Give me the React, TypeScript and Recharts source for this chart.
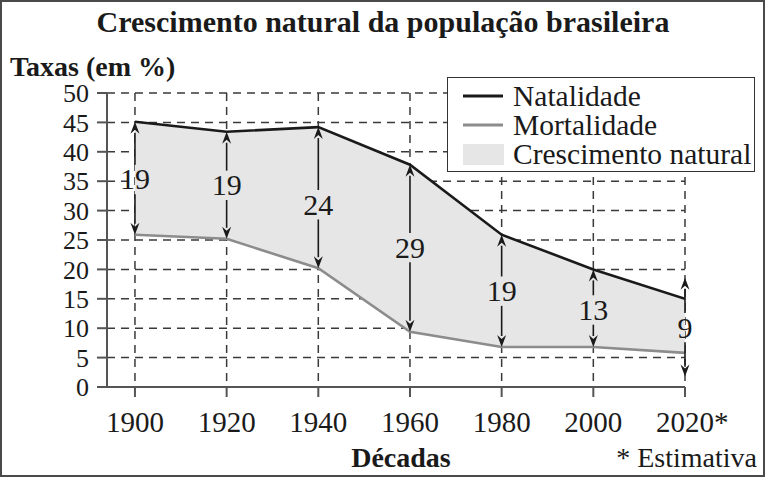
import React from 'react';
import {
  ComposedChart, Area, Line, XAxis, YAxis, CartesianGrid, ReferenceLine, ReferenceDot, Legend,
} from 'recharts';

const years = [1900, 1920, 1940, 1960, 1980, 2000, 2020];
const natalidade = [45.1, 43.4, 44.2, 37.8, 25.9, 20.0, 15.0];
const mortalidade = [25.9, 25.2, 20.2, 9.4, 6.8, 6.8, 5.8];
const crescimento = [19, 19, 24, 29, 19, 13, 9];
const labelAt = [35.3, 34.3, 31.0, 23.7, 16.3, 13.1, 10.1];
const arrowHigh = [45.1, 43.4, 44.2, 37.8, 25.9, 20.0, 18.6];
const arrowLow = [25.9, 25.2, 20.2, 9.4, 6.8, 6.8, 1.8];
const yTicks = [0, 5, 10, 15, 20, 25, 30, 35, 40, 45, 50];
const xTicks = years;

const SERIF = "'Liberation Serif', 'Times New Roman', serif";
const LABEL_GAP = 2.5;

const data = years.map((y, i) => ({
  year: y,
  nat: natalidade[i],
  mort: mortalidade[i],
  range: [mortalidade[i], natalidade[i]],
}));

const ArrowSeg = (props: any) => {
  const { x1, y1, x2, y2 } = props;
  const dir = Math.sign(y2 - y1) || 1;
  const len = 11;
  const hw = 4.5;
  return (
    <g>
      <line x1={x1} y1={y1} x2={x2} y2={y2 - dir * len} stroke="#1a1a1a" strokeWidth={1.6} />
      <path
        d={`M${x2},${y2} L${x2 - hw},${y2 - dir * (len + 1)} L${x2},${y2 - dir * (len - 3)} L${x2 + hw},${y2 - dir * (len + 1)} Z`}
        fill="#1a1a1a"
      />
    </g>
  );
};

const XTick = (props: any) => {
  const { x, y, payload } = props;
  const v = payload.value;
  return (
    <text x={x - 29} y={y + 33} textAnchor="start" fontFamily={SERIF} fontSize={29} fill="#1a1a1a">
      {v === 2020 ? '2020*' : String(v)}
    </text>
  );
};

const LegendBox = () => (
  <div
    style={{
      width: 308,
      height: 95,
      boxSizing: 'border-box',
      border: '1.5px solid #333',
      background: '#fff',
      fontFamily: SERIF,
      fontSize: 29.5,
      color: '#1a1a1a',
      position: 'relative',
    }}
  >
    {[
      { name: 'Natalidade', kind: 'line', color: '#1a1a1a' },
      { name: 'Mortalidade', kind: 'line', color: '#8c8c8c' },
      { name: 'Crescimento natural', kind: 'rect', color: '#e6e6e6' },
    ].map((it, i) => (
      <div
        key={it.name}
        style={{ position: 'absolute', left: 14, top: 3 + i * 29, height: 30, display: 'flex', alignItems: 'center', whiteSpace: 'nowrap' }}
      >
        <svg width={42} height={30} style={{ display: 'block' }}>
          {it.kind === 'line' ? (
            <line x1={1} y1={15} x2={41} y2={15} stroke={it.color} strokeWidth={3} />
          ) : (
            <rect x={1} y={5} width={41} height={21} fill={it.color} />
          )}
        </svg>
        <span style={{ marginLeft: 9, lineHeight: '30px' }}>{it.name}</span>
      </div>
    ))}
  </div>
);

export default function App() {
  return (
    <div style={{ position: 'absolute', left: 0, top: 0, width: 765, height: 477, background: '#fff' }}>
      <ComposedChart
        width={765}
        height={477}
        data={data}
        margin={{ top: 93, right: 80, bottom: 30, left: 47 }}
      >
        <CartesianGrid
          stroke="#3a3a3a"
          strokeWidth={1.5}
          strokeDasharray="8 6"
        />
        <XAxis
          dataKey="year"
          type="number"
          domain={[1893.9, 2020]}
          ticks={xTicks}
          allowDataOverflow
          height={60}
          tickSize={10}
          axisLine={{ stroke: '#555', strokeWidth: 2 }}
          tickLine={{ stroke: '#555', strokeWidth: 2 }}
          tick={<XTick />}
          interval={0}
        />
        <YAxis
          type="number"
          domain={[0, 50]}
          ticks={yTicks}
          width={60}
          tickSize={10}
          tickMargin={8}
          interval={0}
          axisLine={{ stroke: '#555', strokeWidth: 2 }}
          tickLine={{ stroke: '#555', strokeWidth: 2 }}
          tick={{ fontFamily: SERIF, fontSize: 26, fill: '#1a1a1a' }}
        />
        <Area
          dataKey="range"
          type="linear"
          fill="#e6e6e6"
          fillOpacity={1}
          stroke="none"
          isAnimationActive={false}
          legendType="none"
        />
        <Line dataKey="mort" type="linear" stroke="#8c8c8c" strokeWidth={2.6} dot={false} isAnimationActive={false} />
        <Line dataKey="nat" type="linear" stroke="#1a1a1a" strokeWidth={2.6} dot={false} isAnimationActive={false} />
        {years.map((yr, i) => (
          <ReferenceLine
            key={`up-${yr}`}
            segment={[{ x: yr, y: labelAt[i] + LABEL_GAP }, { x: yr, y: arrowHigh[i] }]}
            shape={(p: any) => <ArrowSeg {...p} />}
          />
        ))}
        {years.map((yr, i) => (
          <ReferenceLine
            key={`down-${yr}`}
            segment={[{ x: yr, y: labelAt[i] - LABEL_GAP }, { x: yr, y: arrowLow[i] }]}
            shape={(p: any) => <ArrowSeg {...p} />}
          />
        ))}
        {years.map((yr, i) => (
          <ReferenceDot
            key={`lab-${yr}`}
            x={yr}
            y={labelAt[i]}
            r={0}
            shape={(p: any) => (
              <text
                x={p.cx}
                y={p.cy + 10}
                textAnchor="middle"
                fontFamily={SERIF}
                fontSize={30}
                fill="#1a1a1a"
              >
                {crescimento[i]}
              </text>
            )}
          />
        ))}
        <Legend
          layout="horizontal"
          verticalAlign="middle"
          align="center"
          content={() => <LegendBox />}
          wrapperStyle={{ position: 'absolute', left: 447, top: 77, width: 308, height: 95 }}
        />
      </ComposedChart>
      <svg
        width={765}
        height={477}
        style={{ position: 'absolute', left: 0, top: 0, pointerEvents: 'none' }}
      >
        <text x={383} y={32} textAnchor="middle" fontFamily={SERIF} fontWeight="bold" fontSize={30} fill="#1a1a1a">
          Crescimento natural da população brasileira
        </text>
        <text x={10} y={76} textAnchor="start" fontFamily={SERIF} fontWeight="bold" fontSize={28} fill="#1a1a1a">
          Taxas (em %)
        </text>
        <text x={401} y={467} textAnchor="middle" fontFamily={SERIF} fontWeight="bold" fontSize={28} fill="#1a1a1a">
          Décadas
        </text>
        <text x={757} y={467} textAnchor="end" fontFamily={SERIF} fontSize={28} fill="#1a1a1a">
          * Estimativa
        </text>
        <rect x={1} y={1} width={763} height={475} fill="none" stroke="#4a4a4a" strokeWidth={2} />
      </svg>
    </div>
  );
}
